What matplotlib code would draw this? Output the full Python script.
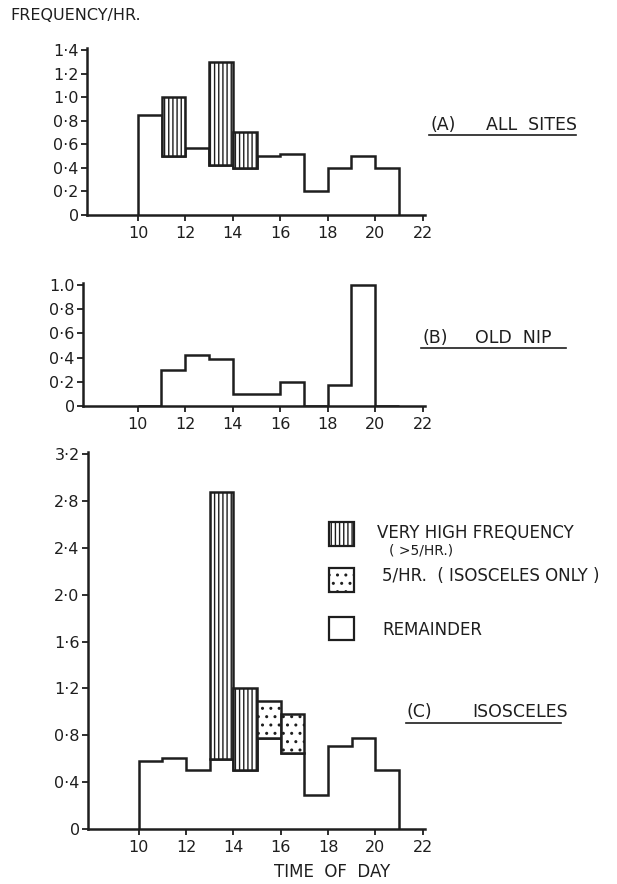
import matplotlib
matplotlib.use("Agg")
import matplotlib.pyplot as plt
import numpy as np
from matplotlib.patches import Rectangle
from matplotlib.lines import Line2D

plt.rcParams['font.family'] = ['DejaVu Sans']
plt.rcParams['hatch.linewidth'] = 1.0

INK = '#1e1e1e'

# ---- data ----
hours = np.arange(10, 22)  # bin edges 10..21
# Panel A: all sites
a_remainder = [0.85, 0.50, 0.57, 0.42, 0.40, 0.50, 0.52, 0.20, 0.40, 0.50, 0.40]
a_high_top = [None, 1.00, None, 1.30, 0.70, None, None, None, None, None, None]
# Panel B: Old Nip
b_values = [0.0, 0.30, 0.42, 0.39, 0.10, 0.10, 0.20, 0.0, 0.17, 1.00, 0.0]
# Panel C: Isosceles
c_remainder = [0.58, 0.61, 0.50, 0.60, 0.50, 0.78, 0.65, 0.29, 0.71, 0.78, 0.50]
c_high_top = [None, None, None, 2.88, 1.20, None, None, None, None, None, None]
c_five_top = [None, None, None, None, None, 1.09, 0.98, None, None, None, None]

x_ticks = [10, 12, 14, 16, 18, 20, 22]
a_yticks = [0, 0.2, 0.4, 0.6, 0.8, 1.0, 1.2, 1.4]
a_ylabels = ['0', '0·2', '0·4', '0·6', '0·8', '1·0', '1·2', '1·4']
b_yticks = [0, 0.2, 0.4, 0.6, 0.8, 1.0]
b_ylabels = ['0', '0·2', '0·4', '0·6', '0·8', '1.0']
c_yticks = [0, 0.4, 0.8, 1.2, 1.6, 2.0, 2.4, 2.8, 3.2]
c_ylabels = ['0', '0·4', '0·8', '1·2', '1·6', '2·0', '2·4', '2·8', '3·2']

W, H = 617, 884
fig = plt.figure(figsize=(W / 100, H / 100), dpi=100)


def box(l, r, b, t):
    return [l / W, 1 - b / H, (r - l) / W, (b - t) / H]


def style(ax, xlim, ylim, yticks, ylabels):
    ax.set_xlim(*xlim)
    ax.set_ylim(*ylim)
    for s in ['top', 'right']:
        ax.spines[s].set_visible(False)
    for s in ['left', 'bottom']:
        ax.spines[s].set_linewidth(1.8)
        ax.spines[s].set_color(INK)
    ax.set_xticks(x_ticks)
    ax.set_yticks(yticks)
    ax.set_yticklabels(ylabels)
    ax.tick_params(direction='out', length=4, width=1.3, colors=INK,
                   labelsize=11.5, pad=2)
    ax.tick_params(axis='x', pad=4)
    ax.patch.set_alpha(0)


def draw_overlay(ax, remainder, tops, hatch):
    for h, r, t in zip(hours[:-1], remainder, tops):
        if t is None:
            continue
        ax.bar(h, t - r, bottom=r, width=1, align='edge', facecolor='white',
               edgecolor=INK, linewidth=1.8, hatch=hatch, zorder=3)


# Panel A
axA = fig.add_axes(box(87, 425, 215, 47.6))
style(axA, (7.85, 22.1), (0, 1.42), a_yticks, a_ylabels)
axA.stairs(a_remainder, hours, baseline=0, fill=False, color=INK, linewidth=1.8, zorder=2)
draw_overlay(axA, a_remainder, a_high_top, '||||')

# Panel B
axB = fig.add_axes(box(83, 425, 406, 282.6))
style(axB, (7.7, 22.1), (0, 1.02), b_yticks, b_ylabels)
axB.stairs(b_values, hours, baseline=0, fill=False, color=INK, linewidth=1.8, zorder=2)

# Panel C
axC = fig.add_axes(box(88, 425, 829, 451.7))
style(axC, (7.85, 22.1), (0, 3.22), c_yticks, c_ylabels)
axC.stairs(c_remainder, hours, baseline=0, fill=False, color=INK, linewidth=1.8, zorder=2)
draw_overlay(axC, c_remainder, c_high_top, '||||')
draw_overlay(axC, c_remainder, c_five_top, '..')


# Texts
def ftxt(x, y, s, **kw):
    kw.setdefault('fontsize', 11)
    kw.setdefault('color', INK)
    fig.text(x / W, 1 - y / H, s, va='center', **kw)


def fline(x0, x1, y):
    fig.add_artist(Line2D([x0 / W, x1 / W], [1 - y / H, 1 - y / H],
                          transform=fig.transFigure, color=INK, linewidth=1.2))


ftxt(10, 16, 'FREQUENCY/HR.', fontsize=11.5)

ftxt(430, 125, '(A)', fontsize=12.5)
ftxt(486, 125, 'ALL  SITES', fontsize=12.5)
fline(429, 576, 135)
ftxt(422, 338, '(B)', fontsize=12.5)
ftxt(475, 338, 'OLD  NIP', fontsize=12.5)
fline(421, 566, 348)
ftxt(406, 712, '(C)', fontsize=12.5)
ftxt(472, 712, 'ISOSCELES', fontsize=12.5)
fline(406, 561, 723)

ftxt(332, 872, 'TIME  OF  DAY', fontsize=12, ha='center')

# Legend
leg_items = [(522, 546, '||||'), (568, 592, '..'), (617, 640, None)]
for top, bot, hatch in leg_items:
    r = Rectangle((329 / W, 1 - bot / H), 25 / W, (bot - top) / H,
                  transform=fig.transFigure, facecolor='white', edgecolor=INK,
                  linewidth=1.6, hatch=hatch)
    fig.add_artist(r)
ftxt(377, 533, 'VERY HIGH FREQUENCY', fontsize=12)
ftxt(389, 551, '( >5/HR.)', fontsize=10)
ftxt(382, 576, '5/HR.  ( ISOSCELES ONLY )', fontsize=12)
ftxt(382, 630, 'REMAINDER', fontsize=12)

fig.savefig('out.png', dpi=100)
